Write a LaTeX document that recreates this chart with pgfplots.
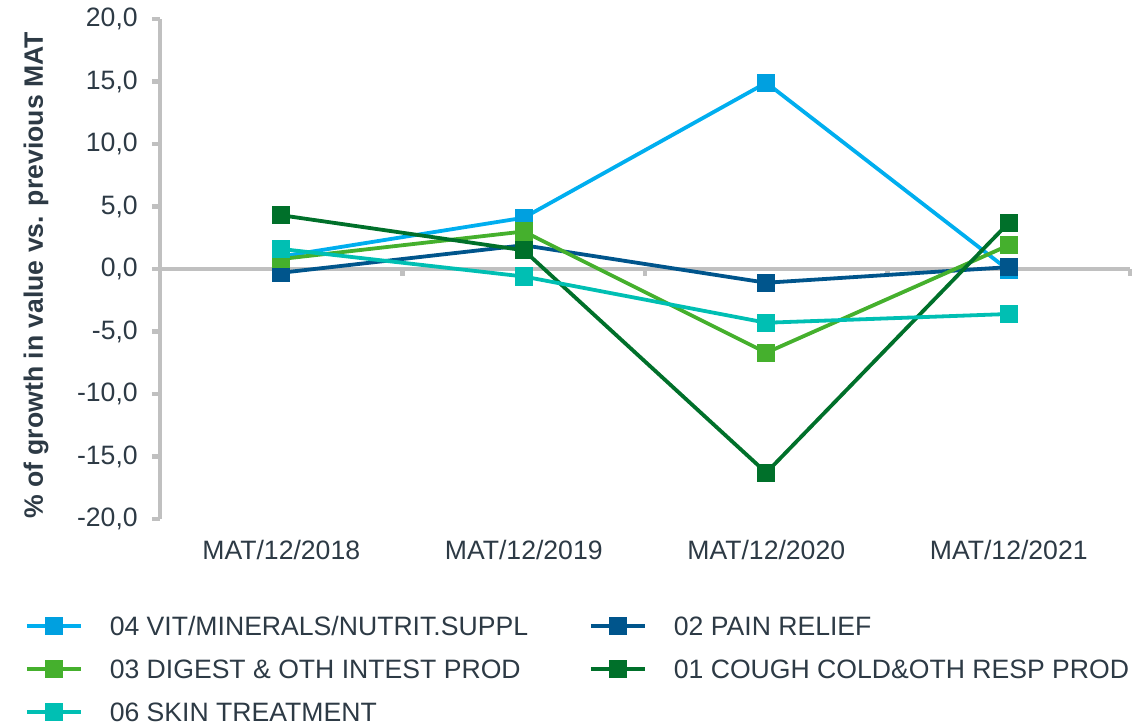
\documentclass[border=0pt]{standalone}
\usepackage{pgfplots}
\pgfplotsset{compat=1.18}
\usepackage{fontspec}
\setmainfont{Liberation Sans}
\newcommand\fs{\fontsize{13.3}{15.5}\selectfont}
\definecolor{txt}{HTML}{2D3A45}
\definecolor{axgray}{HTML}{C0C0C0}
\definecolor{cvit}{HTML}{00AEEF}
\definecolor{cvitm}{HTML}{00A0E0}
\definecolor{cpain}{HTML}{00558C}
\definecolor{cdig}{HTML}{45B02D}
\definecolor{ccough}{HTML}{00702A}
\definecolor{cskin}{HTML}{00BFB3}
\begin{document}
\begin{tikzpicture}
\begin{axis}[
  scale only axis,
  width=485pt, height=250pt,
  xmin=-0.5, xmax=3.5,
  ymin=-20, ymax=20,
  ytick={-20,-15,...,20},
  xtick={0,1,2,3},
  xticklabels={MAT/12/2018,MAT/12/2019,MAT/12/2020,MAT/12/2021},
  axis y line*=left,
  axis x line*=bottom,
  x axis line style={draw=none},
  xtick style={draw=none},
  y axis line style={draw=axgray, line width=2.25pt},
  ytick style={draw=axgray, line width=2.25pt},
  tick align=outside,
  major tick length=4pt,
  /pgf/number format/assume math mode=true,
  /pgf/number format/fixed,
  /pgf/number format/fixed zerofill,
  /pgf/number format/precision=1,
  /pgf/number format/use comma,
  tick label style={font=\fs, text=txt},
  xticklabel style={yshift=-3pt},
  yticklabel style={xshift=-3.6pt},
  ylabel={\% of growth in value vs. previous MAT},
  ylabel style={font=\fs\bfseries, text=txt, at={(axis description cs:-0.1278,0.487)}, anchor=center},
  clip=false,
  legend columns=2,
  legend cell align=left,
  legend style={draw=none, fill=none, font=\fs, text=txt,
    at={(axis description cs:-0.1392,-0.195)}, anchor=north west,
    inner sep=0pt, outer sep=0pt,
    nodes={inner xsep=0pt, inner ysep=0pt, text height=9.5pt, text depth=0pt},
    column sep=13.5pt, row sep=12pt,
    /tikz/every even column/.append style={column sep=30.5pt}},
  legend image code/.code={\draw[mark repeat=2, mark phase=2, #1] plot coordinates {(0pt,0pt) (13.5pt,0pt) (27pt,0pt)};},
  every axis plot/.append style={line width=1.9pt, mark=square*, mark size=3.6pt},
]
\coordinate (bl) at (rel axis cs:0,0);
\addplot[axgray, line width=2.25pt, mark=none, forget plot] coordinates {(-0.5,0) (3.5,0)};
\draw[axgray, line width=2.25pt] (axis cs:0.5,0) -- ([yshift=-3.5pt]axis cs:0.5,0);
\draw[axgray, line width=2.25pt] (axis cs:1.5,0) -- ([yshift=-3.5pt]axis cs:1.5,0);
\draw[axgray, line width=2.25pt] (axis cs:2.5,0) -- ([yshift=-3.5pt]axis cs:2.5,0);
\draw[axgray, line width=2.25pt] (axis cs:3.5,0) -- ([yshift=-3.5pt]axis cs:3.5,0);
\addplot[cvit, mark options={fill=cvitm, draw=cvitm}] coordinates {(0,1.0) (1,4.1) (2,14.9) (3,-0.1)};
\addlegendentry{04 VIT/MINERALS/NUTRIT.SUPPL}
\addplot[cpain, mark options={fill=cpain, draw=cpain}] coordinates {(0,-0.3) (1,1.9) (2,-1.1) (3,0.15)};
\addlegendentry{02 PAIN RELIEF}
\addplot[cdig, mark options={fill=cdig, draw=cdig}] coordinates {(0,0.8) (1,3.0) (2,-6.7) (3,1.9)};
\addlegendentry{03 DIGEST \& OTH INTEST PROD}
\addplot[ccough, mark options={fill=ccough, draw=ccough}] coordinates {(0,4.3) (1,1.5) (2,-16.3) (3,3.7)};
\addlegendentry{01 COUGH COLD\&OTH RESP PROD}
\addplot[cskin, mark options={fill=cskin, draw=cskin}] coordinates {(0,1.6) (1,-0.6) (2,-4.3) (3,-3.6)};
\addlegendentry{06 SKIN TREATMENT}
\end{axis}
\pgfresetboundingbox
\path (bl) ++(-80pt,-104.5pt) rectangle ++(574pt,364pt);
\end{tikzpicture}
\end{document}
